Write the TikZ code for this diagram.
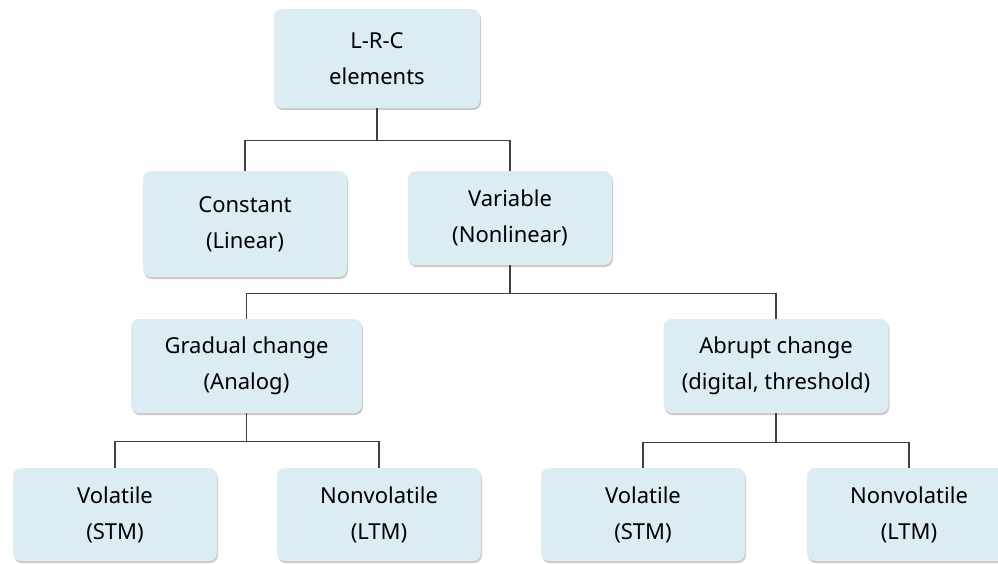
\documentclass[tikz,border=0pt]{standalone}
\usepackage{fontspec}
\setmainfont{Noto Sans}
\usetikzlibrary{shadows}
\definecolor{boxblue}{RGB}{219,237,243}

\begin{document}
\begin{tikzpicture}[x=1pt,y=-1pt,
  box/.style={rectangle,rounded corners=8pt,fill=boxblue,align=center,
    minimum width=204pt,minimum height=94pt,inner sep=0pt,
    font=\fontsize{22}{36}\selectfont,
    drop shadow={shadow xshift=1pt,shadow yshift=-2pt,opacity=0.35,fill=black!60}},
  link/.style={line width=1.3pt,black!75}]
  \useasboundingbox (0,0) rectangle (998,563);
  \clip (0,0) rectangle (998,563);

  \node[box,minimum width=206pt,minimum height=99pt] (lrc) at (377,58.5) {L-R-C\\elements};
  \node[box,minimum height=106pt] (const) at (245,224) {Constant\\(Linear)};
  \node[box] (var) at (510,218) {Variable\\(Nonlinear)};
  \node[box,minimum width=231pt] (grad) at (246.5,366) {Gradual change\\(Analog)};
  \node[box,minimum width=225pt] (abr) at (776,366) {Abrupt change\\(digital, threshold)};
  \node[box,minimum height=93pt] (gvol) at (115,514.5) {Volatile\\(STM)};
  \node[box,minimum height=93pt] (gnon) at (379,514.5) {Nonvolatile\\(LTM)};
  \node[box,minimum height=93pt] (avol) at (643,514.5) {Volatile\\(STM)};
  \node[box,minimum height=93pt] (anon) at (909,514.5) {Nonvolatile\\(LTM)};

  \foreach \from/\to/\d in {lrc/const/32,lrc/var/32,var/grad/28,var/abr/28,grad/gvol/28,grad/gnon/28,abr/avol/29,abr/anon/29}
    \draw[link] (\from.south) -- ++(0,\d) -| (\to.north);
\end{tikzpicture}
\end{document}
